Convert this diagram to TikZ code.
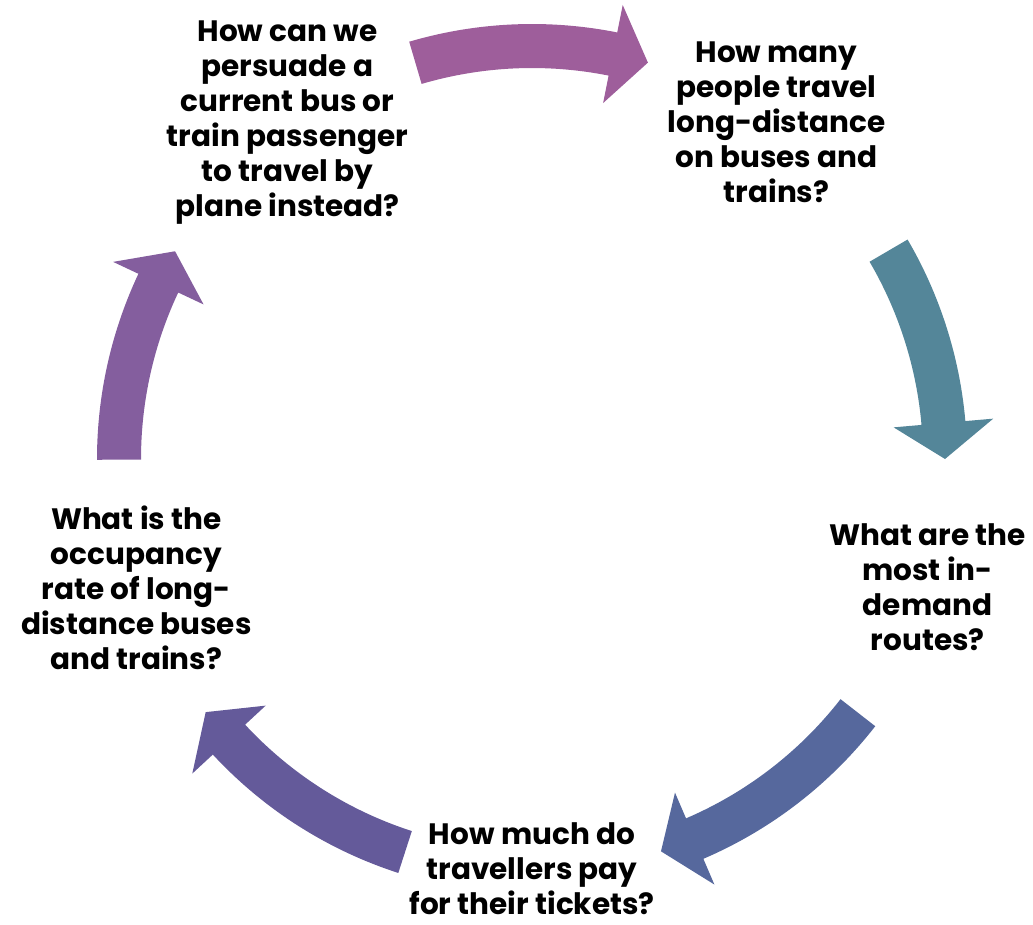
\documentclass[tikz,border=0pt]{standalone}
\usepackage{fontspec}
\setmainfont{Poppins}
\usetikzlibrary{positioning}
\definecolor{arrowtop}{HTML}{9E5E9B}
\definecolor{arrowright}{HTML}{548699}
\definecolor{arrowlowright}{HTML}{56689D}
\definecolor{arrowlowleft}{HTML}{645A9A}
\definecolor{arrowleft}{HTML}{845E9E}
\tikzset{question/.style={align=center, inner sep=0pt, font=\bfseries\fontsize{29.5}{35}\selectfont}}

\begin{document}
\begin{tikzpicture}[x=1pt,y=1pt]
  \useasboundingbox (0,0) rectangle (1033,-925);
  \begin{scope}[shift={(532,-459)}]
    % the five block arrows round the cycle
    \foreach \from/\to/\col in {106.4/73.7/arrowtop, 30.3/0/arrowright,
        -37.9/-71.8/arrowlowright, -107.9/-142.2/arrowlowleft, 180.1/149.8/arrowleft}{
      \pgfmathsetmacro\base{\to+5}
      \fill[\col] (\from:435) arc[start angle=\from, end angle=\base, radius=435]
        -- (\base:463) -- (\to:413) -- (\base:363) -- (\base:391)
        arc[start angle=\base, end angle=\from, radius=391] -- cycle;
    };

    \node[question] (plane) at (126:416) {How can we\\persuade a\\current bus or\\train passenger\\to travel by\\plane instead?};
    \node[question] (volume) at (54:416) {How many\\people travel\\long-distance\\on buses and\\trains?};
    \node[question] (routes) at (-18:416) {What are the\\most in-\\demand\\routes?};
    \node[question] (price) at ([yshift=6]-90:416) {How much do\\travellers pay\\for their tickets?};
    \node[question] (occupancy) at (198:416) {What is the\\occupancy\\rate of long-\\distance buses\\and trains?};
  \end{scope}
\end{tikzpicture}
\end{document}
